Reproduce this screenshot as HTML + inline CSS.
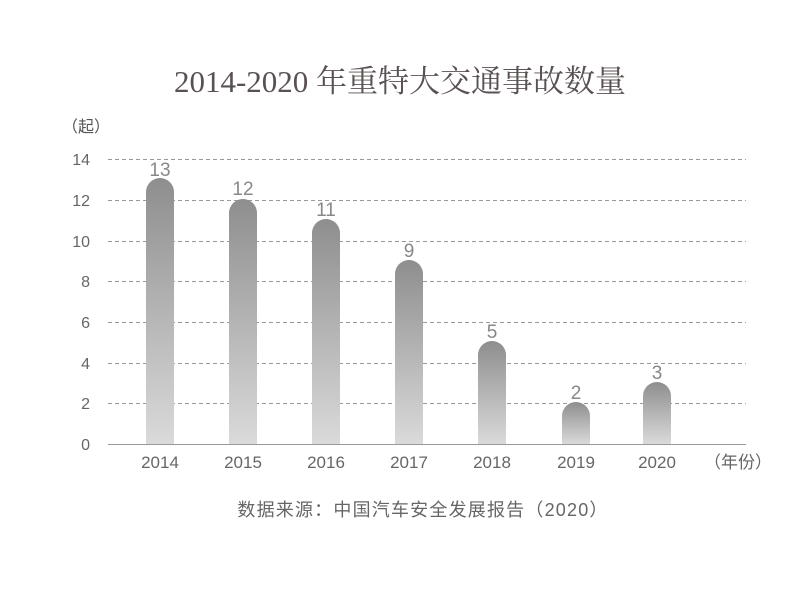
<!DOCTYPE html>
<html><head><meta charset="utf-8"><style>
body{margin:0;background:#fff;width:800px;height:607px;overflow:hidden}
text{font-family:"Liberation Sans","Noto Sans CJK SC",sans-serif}
</style></head><body>
<svg width="800" height="607" xmlns="http://www.w3.org/2000/svg">
<defs><linearGradient id="g" x1="0" y1="0" x2="0" y2="1">
<stop offset="0" stop-color="#8e8e8e"/><stop offset="1" stop-color="#dadada"/></linearGradient></defs>
<text x="400" y="92" text-anchor="middle" font-size="31" fill="#5a5252" style="font-family:'Liberation Serif','Noto Serif CJK SC',serif">2014-2020 年重特大交通事故数量</text>
<text x="62" y="132" font-size="16" fill="#555">（起）</text>
<g stroke="#999" stroke-dasharray="4,3" stroke-width="1">
<line x1="108" y1="159.5" x2="746" y2="159.5"/><line x1="108" y1="200.5" x2="746" y2="200.5"/>
<line x1="108" y1="241.5" x2="746" y2="241.5"/><line x1="108" y1="281.5" x2="746" y2="281.5"/>
<line x1="108" y1="322.5" x2="746" y2="322.5"/><line x1="108" y1="363.5" x2="746" y2="363.5"/>
<line x1="108" y1="403.5" x2="746" y2="403.5"/></g>
<g font-size="16" fill="#666" text-anchor="end">
<text x="90" y="165">14</text><text x="90" y="206">12</text><text x="90" y="247">10</text>
<text x="90" y="287">8</text><text x="90" y="328">6</text><text x="90" y="369">4</text>
<text x="90" y="409">2</text><text x="90" y="450">0</text></g>
<g fill="url(#g)">
<path d="M146,444V192a14,14 0 0 1 28,0V444Z"/>
<path d="M229,444V213a14,14 0 0 1 28,0V444Z"/>
<path d="M312,444V233a14,14 0 0 1 28,0V444Z"/>
<path d="M395,444V274a14,14 0 0 1 28,0V444Z"/>
<path d="M478,444V355a14,14 0 0 1 28,0V444Z"/>
<path d="M562,444V416a14,14 0 0 1 28,0V444Z"/>
<path d="M643,444V396a14,14 0 0 1 28,0V444Z"/></g>
<line x1="108" y1="444.5" x2="746" y2="444.5" stroke="#999"/>
<g font-size="19" fill="#888" text-anchor="middle">
<text x="160" y="176">13</text><text x="243" y="195">12</text><text x="326" y="216">11</text>
<text x="409" y="257">9</text><text x="492" y="338">5</text><text x="576" y="399">2</text><text x="657" y="379">3</text></g>
<g font-size="17" fill="#666" text-anchor="middle">
<text x="160" y="468">2014</text><text x="243" y="468">2015</text><text x="326" y="468">2016</text>
<text x="409" y="468">2017</text><text x="492" y="468">2018</text><text x="576" y="468">2019</text>
<text x="657" y="468">2020</text><text x="738" y="468">（年份）</text></g>
<text x="423" y="516" text-anchor="middle" font-size="18" letter-spacing="1.2" fill="#666">数据来源：中国汽车安全发展报告（2020）</text>
</svg>
</body></html>
